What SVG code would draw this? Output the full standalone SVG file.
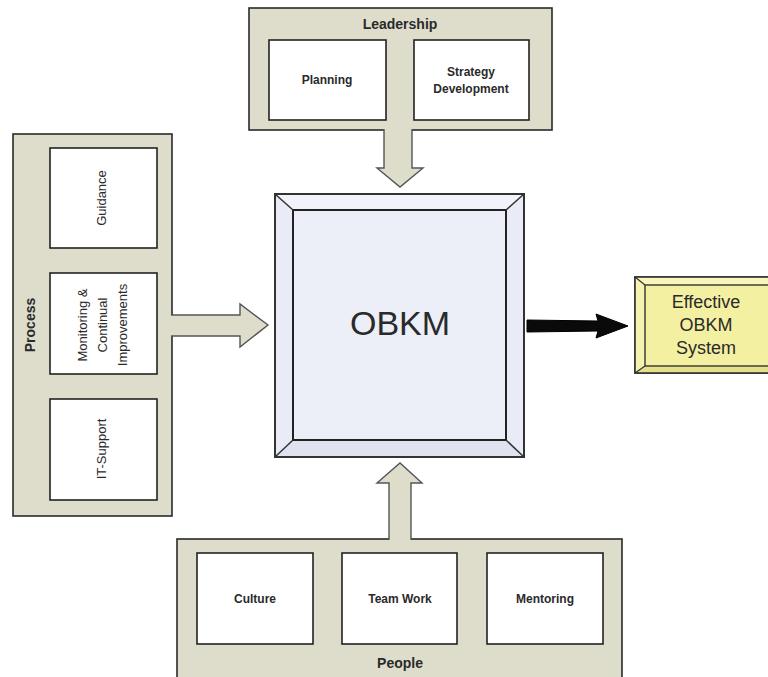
<svg xmlns="http://www.w3.org/2000/svg" width="768" height="677" viewBox="0 0 768 677">
<style>
.grp{fill:#deddcc;stroke:#2a2a2a;stroke-width:1.6}
.box{fill:#ffffff;stroke:#222;stroke-width:1.6}
.arr{fill:#deddcc;stroke:#555;stroke-width:1.4;stroke-linejoin:miter}
.t{font-family:"Liberation Sans",Arial,sans-serif;fill:#2a2a2a;text-anchor:middle}
.b{font-weight:bold;font-size:12px}
.r{font-size:13px}
.hdr{font-weight:bold;font-size:14px}
</style>
<rect width="768" height="677" fill="#ffffff"/>
<g id="leadership">
<rect class="grp" x="249" y="8" width="303" height="122"/>
<text class="t hdr" x="400" y="29">Leadership</text>
<g id="planning"><rect class="box" x="269" y="40" width="117" height="80"/><text class="t b" x="327" y="84">Planning</text></g>
<g id="strategy"><rect class="box" x="414" y="40" width="115" height="80"/><text class="t b" x="471" y="76">Strategy</text><text class="t b" x="471" y="93">Development</text></g>
</g>
<g id="process">
<rect class="grp" x="13" y="134" width="159" height="382"/>
<text class="t hdr" transform="translate(35,325) rotate(-90)">Process</text>
<g id="guidance"><rect class="box" x="50" y="148" width="107" height="100"/><text class="t r" transform="translate(106,198) rotate(-90)">Guidance</text></g>
<g id="monitoring"><rect class="box" x="50" y="273" width="107" height="101"/>
<text class="t r" transform="translate(87,325) rotate(-90)">Monitoring &amp;</text>
<text class="t r" transform="translate(107,325) rotate(-90)">Continual</text>
<text class="t r" transform="translate(127,325) rotate(-90)">Improvements</text></g>
<g id="itsupport"><rect class="box" x="50" y="399" width="107" height="101"/><text class="t r" transform="translate(106,449) rotate(-90)">IT-Support</text></g>
</g>
<g id="people">
<rect class="grp" x="177" y="539" width="445" height="145"/>
<text class="t hdr" x="400" y="668">People</text>
<g id="culture"><rect class="box" x="197" y="553" width="116" height="91"/><text class="t b" x="255" y="603">Culture</text></g>
<g id="teamwork"><rect class="box" x="342" y="553" width="115" height="91"/><text class="t b" x="400" y="603">Team Work</text></g>
<g id="mentoring"><rect class="box" x="487" y="553" width="116" height="91"/><text class="t b" x="545" y="603">Mentoring</text></g>
</g>
<g id="obkm">
<rect x="275" y="194" width="249" height="263" fill="#e9ecf6" stroke="#333" stroke-width="2"/>
<polygon points="275,194 524,194 506,210 293,210" fill="#f1f3fa"/>
<polygon points="275,457 524,457 506,440 293,440" fill="#dfe3ef"/>
<rect x="275" y="194" width="249" height="263" fill="none" stroke="#333" stroke-width="2"/>
<rect x="293" y="210" width="213" height="230" fill="#eceff8" stroke="#222" stroke-width="2"/>
<line x1="275" y1="194" x2="293" y2="210" stroke="#333" stroke-width="1.5"/>
<line x1="524" y1="194" x2="506" y2="210" stroke="#333" stroke-width="1.5"/>
<line x1="275" y1="457" x2="293" y2="440" stroke="#333" stroke-width="1.5"/>
<line x1="524" y1="457" x2="506" y2="440" stroke="#333" stroke-width="1.5"/>
<text class="t" x="400" y="335" font-size="34">OBKM</text>
</g>
<g id="effective">
<rect x="635" y="277" width="140" height="96" fill="#f3ef9c" stroke="#333" stroke-width="1.6"/>
<polygon points="635,277 775,277 775,285 645,285" fill="#f8f5bd"/>
<polygon points="635,277 645,285 645,366 635,373" fill="#f6f3b0"/>
<polygon points="635,373 645,366 775,366 775,373" fill="#e6e08a"/>
<rect x="645" y="285" width="130" height="81" fill="#f4f0a2" stroke="#333" stroke-width="1.4"/>
<line x1="635" y1="277" x2="645" y2="285" stroke="#333" stroke-width="1.2"/>
<line x1="635" y1="373" x2="645" y2="366" stroke="#333" stroke-width="1.2"/>
<rect x="635" y="277" width="140" height="96" fill="none" stroke="#333" stroke-width="1.6"/>
<text class="t" x="706" y="308" font-size="18">Effective</text>
<text class="t" x="706" y="331" font-size="18">OBKM</text>
<text class="t" x="706" y="354" font-size="18">System</text>
</g>
<g id="connectors">
<path class="arr" d="M384,129 V168 H377 L400,187 L423,168 H412 V129"/>
<path class="arr" d="M171,315 H240 V304 L268,325 L240,347 V336 H171"/>
<path class="arr" d="M389,540 V483 H377 L400,463 L422,483 H411 V540"/>
<polygon points="527,320 598,321 596,314 628,326 596,338 598,331 527,332" fill="#0a0a0a" stroke="#000" stroke-width="1"/>
</g>
</svg>
